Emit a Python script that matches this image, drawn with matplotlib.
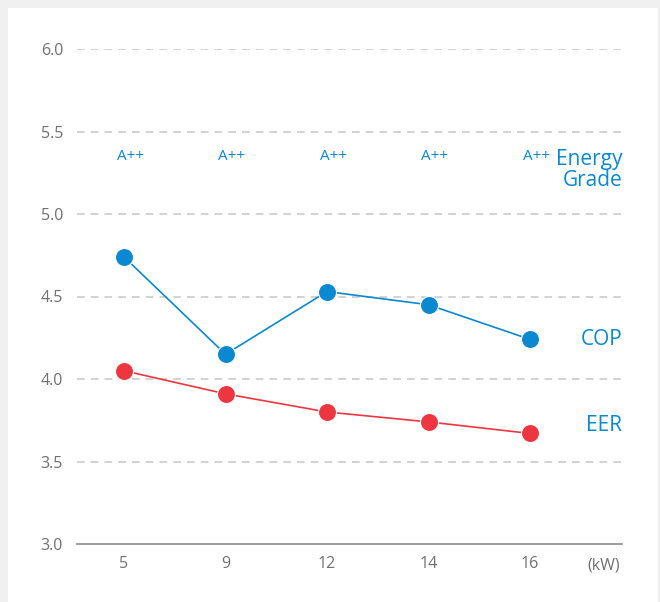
import matplotlib
matplotlib.use("Agg")
import matplotlib.pyplot as plt
from matplotlib.patches import Rectangle

categories = ["5", "9", "12", "14", "16"]
cop = [4.74, 4.15, 4.53, 4.45, 4.24]
eer = [4.05, 3.91, 3.80, 3.74, 3.67]
grades = ["A++", "A++", "A++", "A++", "A++"]
yticks = [3.0, 3.5, 4.0, 4.5, 5.0, 5.5, 6.0]

BLUE = "#0a88d0"
RED = "#ee3640"
GRAY = "#707070"
GRID = "#c6c6c6"

plt.rcParams["font.family"] = ["Open Sans", "DejaVu Sans"]

W, H = 660, 602
fig = plt.figure(figsize=(W / 100, H / 100), dpi=100, facecolor="#f0f0f0")
panel = Rectangle((8 / W, 0), (658 - 8) / W, (H - 8) / H,
                  transform=fig.transFigure, facecolor="white",
                  edgecolor="none", zorder=-10)
fig.add_artist(panel)

ax = fig.add_axes([77 / W, (H - 544) / H, (622 - 77) / W, (544 - 49) / H])
ax.set_zorder(1)
ax.set_facecolor("none")
x = list(range(len(categories)))

ax.set_xlim(-0.463, 4.906)
ax.set_ylim(3.0, 6.0)
ax.set_yticks(yticks)
ax.set_yticklabels([f"{v:.1f}" for v in yticks])
ax.set_xticks(x)
ax.set_xticklabels(categories)
ax.tick_params(axis="both", length=0, labelsize=11.5, colors=GRAY)
ax.tick_params(axis="y", pad=10)
ax.tick_params(axis="x", pad=9)

for v in yticks[1:]:
    ax.axhline(v, color=GRID, lw=1.1, dashes=(5, 4), zorder=1)
for s in ["top", "right", "left"]:
    ax.spines[s].set_visible(False)
ax.spines["bottom"].set_color("#8c8c8c")
ax.spines["bottom"].set_linewidth(1.2)

ax.plot(x, cop, color=BLUE, lw=1.2, marker="o", ms=13, mfc=BLUE, mec="white",
        mew=0.8, zorder=3, clip_on=False)
ax.plot(x, eer, color=RED, lw=1.2, marker="o", ms=13, mfc=RED, mec="white",
        mew=0.8, zorder=3, clip_on=False)

for xi, g in zip(x, grades):
    ax.text(xi + 0.06, 5.35, g, color=BLUE, fontsize=11, ha="center", va="center")

ax.text(4.906, 5.265, "Energy\nGrade", color=BLUE, fontsize=15, ha="right",
        va="center", linespacing=1.02)
ax.text(4.906, 4.24, "COP", color=BLUE, fontsize=15, ha="right", va="center")
ax.text(4.906, 3.72, "EER", color=BLUE, fontsize=15, ha="right", va="center")
ax.annotate("(kW)", xy=(4.73, 3.0), xycoords="data", xytext=(0, -15.5),
            textcoords="offset points", color=GRAY, fontsize=11.5,
            ha="center", va="center", annotation_clip=False)

fig.savefig("out.png", dpi=100, facecolor=fig.get_facecolor())
